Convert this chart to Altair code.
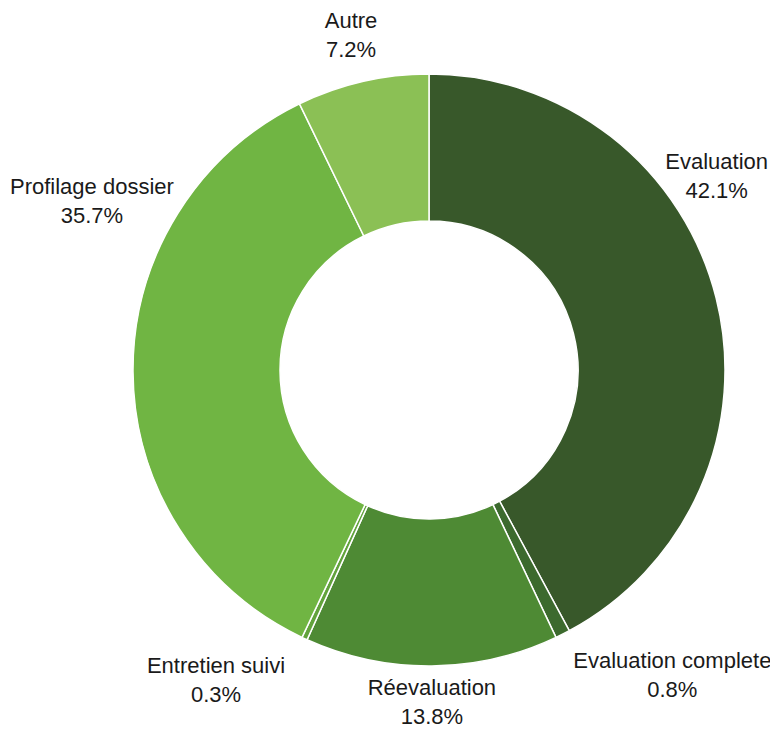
import altair as alt
import pandas as pd

categories = ["Evaluation", "Evaluation complete", "Réevaluation", "Entretien suivi", "Profilage dossier", "Autre"]
values = [42.1, 0.8, 13.8, 0.3, 35.7, 7.2]
colors = ["#38582a", "#3c6a2e", "#4e8a34", "#62a33c", "#70b543", "#8bc055"]

# label placement (layout only): angle in degrees clockwise from top, distance from centre in px
label_angle = [56.0, 141.4, 179.5, 214.5, 296.6, 346.9]
label_radius = [347, 390, 332, 376, 377, 344]

df = pd.DataFrame({
    "cat": categories,
    "val": values,
    "order": list(range(len(categories))),
    "label": [f"{c}\n{v}%" for c, v in zip(categories, values)],
    "la": label_angle,
    "lr": label_radius,
})

cx, cy = 421, 362

arcs = alt.Chart(df).mark_arc(outerRadius=296, innerRadius=149, stroke="white", strokeWidth=1.5).encode(
    theta=alt.Theta("val:Q", stack=True),
    order=alt.Order("order:Q"),
    color=alt.Color("cat:N", scale=alt.Scale(domain=categories, range=colors), legend=None),
    x=alt.value(cx),
    y=alt.value(cy),
)

labels = alt.Chart(df).mark_text(
    font="Liberation Sans", fontSize=22, color="#1a1a1a", lineBreak="\n", lineHeight=29,
    align="center", baseline="middle", dy=-14,
).encode(
    theta=alt.Theta("la:Q", scale=alt.Scale(domain=[0, 360], range=[0, 6.283185307179586]), stack=False),
    radius=alt.Radius("lr:Q", scale=alt.Scale(type="linear", domain=[0, 400], range=[0, 400], zero=True)),
    text="label:N",
    x=alt.value(cx),
    y=alt.value(cy),
)

chart = alt.layer(arcs, labels).resolve_scale(theta="independent").properties(
    width=762, height=720,
    padding=0,
    autosize=alt.AutoSizeParams(type="none"),
).configure_view(stroke=None)

chart.save("out.html", embed_options={"renderer": "svg", "actions": False})
